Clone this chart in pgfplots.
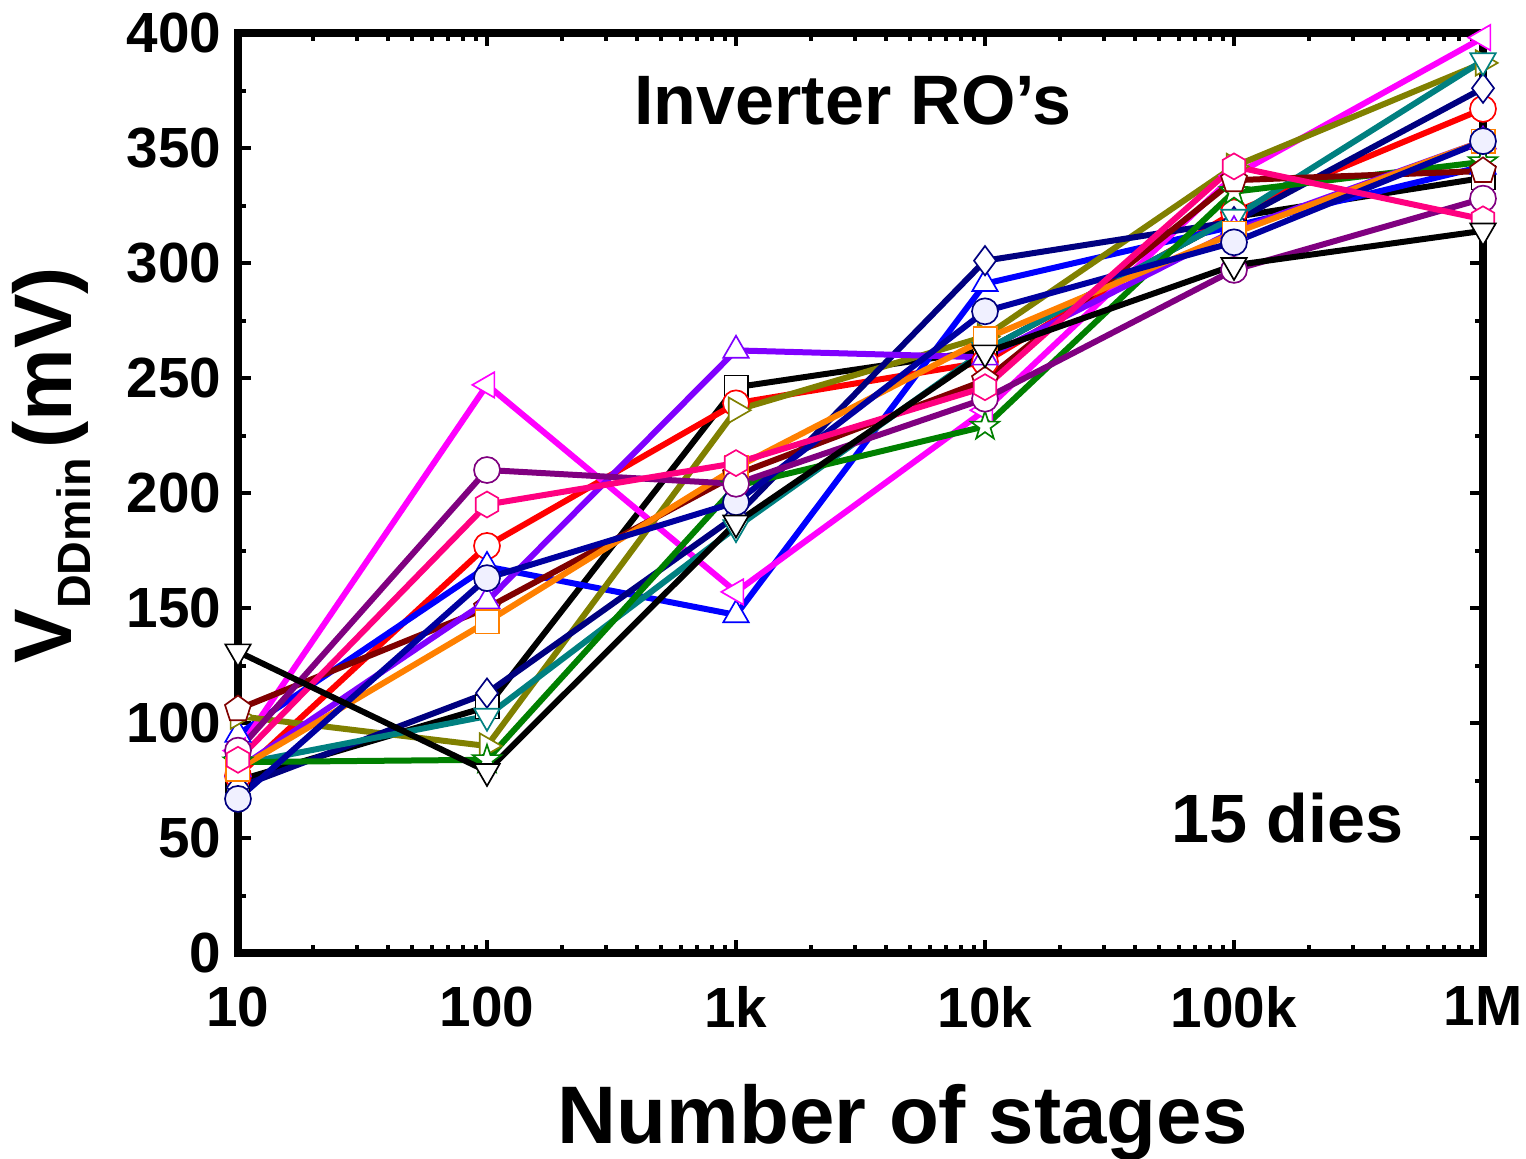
\documentclass[border=0pt]{standalone}
\usepackage{fontspec}
\setmainfont{Liberation Sans}
\usepackage{pgfplots}
\pgfplotsset{compat=1.18}
\usetikzlibrary{plotmarks}
\definecolor{cblack}{RGB}{0,0,0}
\definecolor{cred}{RGB}{255,0,0}
\definecolor{cblue}{RGB}{0,0,255}
\definecolor{cmagenta}{RGB}{255,0,255}
\definecolor{cnavy}{RGB}{0,0,128}
\definecolor{cteal}{RGB}{0,128,128}
\definecolor{cgreen}{RGB}{0,128,0}
\definecolor{cmaroon}{RGB}{128,0,0}
\definecolor{cviolet}{RGB}{128,0,255}
\definecolor{corange}{RGB}{255,128,0}
\definecolor{csphere}{RGB}{0,0,160}
\definecolor{cpurple}{RGB}{128,0,128}
\definecolor{cpink}{RGB}{255,0,128}
\definecolor{colive}{RGB}{128,128,0}
\pgfdeclareplotmark{hexagon}{%
  \pgfpathmoveto{\pgfpointpolar{90}{\pgfplotmarksize}}%
  \pgfpathlineto{\pgfpointpolar{150}{\pgfplotmarksize}}%
  \pgfpathlineto{\pgfpointpolar{210}{\pgfplotmarksize}}%
  \pgfpathlineto{\pgfpointpolar{270}{\pgfplotmarksize}}%
  \pgfpathlineto{\pgfpointpolar{330}{\pgfplotmarksize}}%
  \pgfpathlineto{\pgfpointpolar{30}{\pgfplotmarksize}}%
  \pgfpathclose\pgfusepathqfillstroke}
\pgfdeclareplotmark{fivestar}{%
  \pgfpathmoveto{\pgfpointpolar{90}{1.15\pgfplotmarksize}}%
  \pgfpathlineto{\pgfpointpolar{126}{0.45\pgfplotmarksize}}%
  \pgfpathlineto{\pgfpointpolar{162}{1.15\pgfplotmarksize}}%
  \pgfpathlineto{\pgfpointpolar{198}{0.45\pgfplotmarksize}}%
  \pgfpathlineto{\pgfpointpolar{234}{1.15\pgfplotmarksize}}%
  \pgfpathlineto{\pgfpointpolar{270}{0.45\pgfplotmarksize}}%
  \pgfpathlineto{\pgfpointpolar{306}{1.15\pgfplotmarksize}}%
  \pgfpathlineto{\pgfpointpolar{342}{0.45\pgfplotmarksize}}%
  \pgfpathlineto{\pgfpointpolar{18}{1.15\pgfplotmarksize}}%
  \pgfpathlineto{\pgfpointpolar{54}{0.45\pgfplotmarksize}}%
  \pgfpathclose\pgfusepathqfillstroke}
\begin{document}
\begin{tikzpicture}
\begin{axis}[
  name=ax,
  scale only axis,
  width=373.5pt, height=276pt,
  xmode=log, xmin=10, xmax=1000000,
  ymin=0, ymax=400,
  xtick={10,100,1000,10000,100000,1000000},
  xticklabels={10,100,1k,10k,100k,1M},
  ytick={0,50,100,150,200,250,300,350,400},
  minor y tick num=1,
  axis line style={line width=2.4pt},
  every tick/.style={black, line width=1.2pt},
  major tick length=4pt, minor tick length=2.5pt,
  tick align=inside,
  ticklabel style={font=\fontsize{17}{20}\selectfont\bfseries},
  /pgf/number format/assume math mode=true,
  xticklabel style={yshift=-6.5pt},
  yticklabel style={xshift=-1.5pt},
  clip=false,
  every axis plot/.append style={line width=1.8pt, mark size=3.9pt},
]
\addplot[cblack, mark=square*, mark options={fill=white, line width=0.5pt, draw=cblack, mark size=3.5pt}] coordinates {(10,75)(100,107)(1000,246)(10000,262)(100000,320)(1000000,337)};
\addplot[cred, mark=*, mark options={fill=white, line width=0.5pt, draw=cred}] coordinates {(10,77)(100,177)(1000,239)(10000,257)(100000,322)(1000000,367)};
\addplot[cblue, mark=triangle*, mark options={fill=white, line width=0.5pt, draw=cblue, mark size=4.4pt}] coordinates {(10,95)(100,168)(1000,147)(10000,291)(100000,316)(1000000,342)};
\addplot[cmagenta, mark=triangle*, mark options={fill=white, line width=0.5pt, draw=cmagenta, rotate=90, mark size=4.4pt}] coordinates {(10,88)(100,247)(1000,157)(10000,236)(100000,338)(1000000,398)};
\addplot[colive, mark=triangle*, mark options={fill=white, line width=0.5pt, draw=colive, rotate=-90, mark size=4.4pt}] coordinates {(10,103)(100,90)(1000,236)(10000,268)(100000,342)(1000000,387)};
\addplot[cnavy, mark=diamond*, mark options={fill=white, line width=0.5pt, draw=cnavy, mark size=4.4pt}] coordinates {(10,72)(100,113)(1000,190)(10000,301)(100000,318)(1000000,376)};
\addplot[cteal, mark=triangle*, mark options={fill=white, line width=0.5pt, draw=cteal, rotate=180, mark size=4.4pt}] coordinates {(10,82)(100,103)(1000,185)(10000,262)(100000,320)(1000000,388)};
\addplot[cgreen, mark=fivestar, mark options={fill=white, line width=0.5pt, draw=cgreen}] coordinates {(10,83)(100,84)(1000,203)(10000,229)(100000,331)(1000000,344)};
\addplot[cmaroon, mark=pentagon*, mark options={fill=white, line width=0.5pt, draw=cmaroon, mark size=4.1pt}] coordinates {(10,106)(100,150)(1000,208)(10000,249)(100000,336)(1000000,340)};
\addplot[cviolet, mark=triangle*, mark options={fill=white, line width=0.5pt, draw=cviolet, mark size=4.4pt}] coordinates {(10,80)(100,153)(1000,262)(10000,259)(100000,314)(1000000,353)};
\addplot[corange, mark=square*, mark options={fill=white, line width=0.5pt, draw=corange, mark size=3.5pt}] coordinates {(10,80)(100,144)(1000,211)(10000,267)(100000,313)(1000000,353)};
\addplot[csphere, mark=*, mark options={fill=blue!6, line width=0.5pt, draw=cnavy}] coordinates {(10,67)(100,163)(1000,196)(10000,279)(100000,309)(1000000,353)};
\addplot[cpurple, mark=*, mark options={fill=white, line width=0.5pt, draw=cpurple}] coordinates {(10,88)(100,210)(1000,204)(10000,241)(100000,297)(1000000,328)};
\addplot[cpink, mark=hexagon, mark options={fill=white, line width=0.5pt, draw=cpink}] coordinates {(10,84)(100,195)(1000,213)(10000,246)(100000,342)(1000000,319)};
\addplot[cblack, mark=triangle*, mark options={fill=white, line width=0.5pt, draw=cblack, rotate=180, mark size=4.4pt}] coordinates {(10,131)(100,79)(1000,187)(10000,261)(100000,299)(1000000,314)};
\node[font=\fontsize{21}{25}\selectfont\bfseries] at (rel axis cs:0.494,0.927) {Inverter RO’s};
\node[font=\fontsize{20.5}{25}\selectfont\bfseries] at (rel axis cs:0.843,0.147) {15 dies};
\node[font=\fontsize{24.5}{28}\selectfont\bfseries, anchor=base, yshift=-57pt] at (rel axis cs:0.534,0) {Number of stages};
\node[font=\fontsize{24.5}{28}\selectfont\bfseries, rotate=90, anchor=center] at ([xshift=-56pt]rel axis cs:0,0.53) {V\kern0.2pt{\raisebox{-0.45ex}{\fontsize{14}{16}\selectfont DDmin}}\kern3pt(mV)};
\end{axis}
\pgfresetboundingbox
\path[use as bounding box] ([shift={(-71.4pt,-61.8pt)}]ax.south west) rectangle ([shift={(12.9pt,9.9pt)}]ax.north east);
\end{tikzpicture}
\end{document}
